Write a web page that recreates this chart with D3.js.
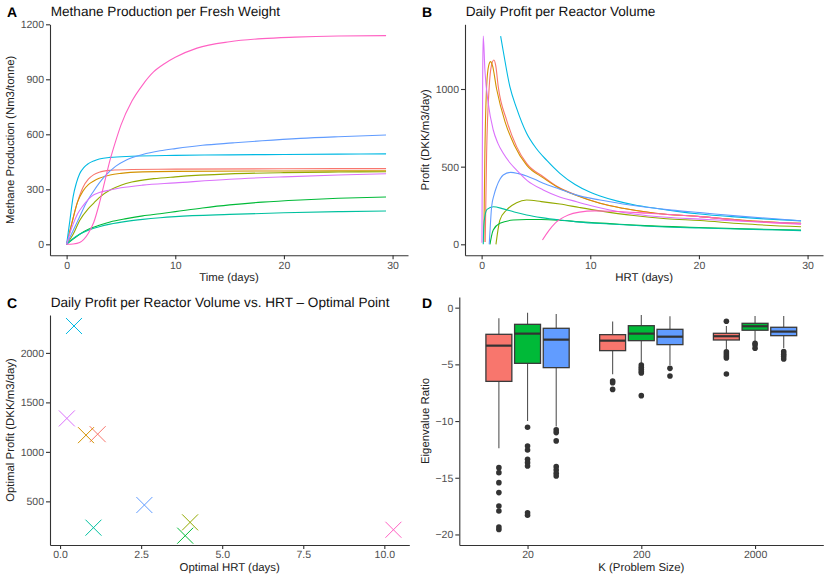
<!DOCTYPE html>
<html>
<head>
<meta charset="utf-8">
<script src="https://cdn.jsdelivr.net/npm/d3@7"></script>
<style>
  body { margin: 0; background: #fff; }
  svg { font-family: "Liberation Sans", Arial, sans-serif; text-rendering: geometricPrecision; }
  .axis path, .axis line { stroke: #333; stroke-width: 1.1; }
  .axis text { fill: #4d4d4d; font-size: 10.5px; }
</style>
</head>
<body>
<div id="chart-area"></div>
<script>
// --- Data ---
// series order follows the ggplot hue palette
var seriesColors = ["#F8766D", "#D39200", "#93AA00", "#00BA38", "#00C19F", "#00B9E3", "#619CFF", "#DB72FB", "#FF61C3"];

// Panel A: methane production (time in days, Nm3/tonne)
var methaneRed    = [[0,0],[0.5,120],[1,230],[1.5,310],[2,355],[2.5,380],[3,393],[4,403],[6,408],[10,410],[20,412],[29.4,413]];
var methaneOrange = [[0,0],[0.5,120],[1,230],[1.5,290],[2,325],[2.5,345],[3,360],[4,378],[5,387],[7,395],[10,398],[20,400],[29.4,401]];
var methaneOlive  = [[0,0],[0.6,55],[1.2,130],[2,195],[2.5,225],[3,255],[4,296],[5,322],[6,340],[8,358],[10,368],[15,384],[20,391],[25,394],[29.4,396]];
var methaneGreen  = [[0,0],[0.6,28],[1.2,55],[2,82],[3,104],[4,122],[5.5,140],[7,155],[8.6,167],[10,178],[12.5,198],[15,215],[18,230],[21.5,242],[25,251],[29.4,258]];
var methaneTeal   = [[0,0],[0.6,32],[1.2,55],[2,77],[3,96],[4,110],[5.5,125],[7,136],[8.6,145],[10,151],[15,163],[20,172],[25,178],[29.4,182]];
var methaneCyan   = [[0,0],[0.3,130],[0.6,260],[0.9,335],[1.2,385],[1.6,420],[2,440],[2.5,455],[3,465],[4,474],[6,480],[10,485],[15,488],[20,490],[25,492],[29.4,493]];
var methaneBlue   = [[0,0],[0.6,75],[1.2,150],[1.8,225],[2.45,287],[3.5,370],[4.5,425],[5.5,460],[7,490],[8.6,510],[10,522],[12.5,540],[15.3,553],[18,565],[21.5,578],[25,587],[29.4,596]];
var methanePurple = [[0,0],[0.3,60],[0.6,110],[1,165],[1.5,210],[2,245],[2.5,270],[3,282],[4,296],[5,308],[7,323],[10,335],[15,355],[20,368],[25,378],[29.4,385]];
var methanePink   = [[0,0],[0.6,2],[1.2,10],[2,60],[2.5,120],[3,220],[3.5,340],[4,460],[4.5,560],[5,650],[6,780],[7,870],[8,940],[9,985],[10,1020],[12,1070],[15,1105],[18,1122],[21,1130],[25,1136],[29.4,1138]];

// Panel B: daily profit per reactor volume (HRT in days, DKK/m3/day)
var profitRed    = [[0.33,15],[0.46,586],[0.7,1015],[0.9,1150],[1.13,1187],[1.3,1150],[1.53,1015],[2.3,800],[3.22,629],[4.14,521],[5.67,435],[7,370],[8.74,316],[10.9,264],[13,232],[16,200],[20.1,178],[24,155],[29.4,135]];
var profitOrange = [[0.2,15],[0.3,586],[0.46,1015],[0.65,1150],[0.83,1176],[1.0,1150],[1.38,1000],[2.15,790],[3,640],[4.14,510],[5.67,428],[7,368],[8.74,314],[10.9,264],[13,232],[16,200],[20.1,178],[24,155],[29.4,135]];
var profitOlive  = [[1.32,0],[1.5,90],[1.68,156],[2.3,221],[3.22,268],[4.14,285],[5.5,275],[7.2,259],[9,237],[10.9,215],[14,185],[17,165],[20.1,153],[24,132],[29.4,113]];
var profitGreen  = [[0.77,0],[0.9,50],[1.07,92],[1.68,135],[2.9,156],[4.14,160],[5.5,160],[7.2,155],[9,145],[11.8,133],[15,120],[20,108],[25,98],[29.4,91]];
var profitTeal   = [[0.15,0],[0.2,120],[0.3,180],[0.5,225],[1.07,242],[2,228],[3,208],[4.14,189],[5.5,172],[7.2,156],[9,143],[11.8,131],[15,118],[20,105],[25,96],[29.4,88]];
var profitCyan   = [[1.75,1341],[2,1240],[2.6,1015],[3.2,880],[4.14,715],[5,620],[6,540],[7.2,457],[8.6,385],[10,335],[10.9,311],[12.5,278],[14,255],[16,232],[18,212],[20.1,195],[23,178],[26,164],[29.4,151]];
var profitBlue   = [[0.7,0],[0.8,120],[0.92,242],[1.15,320],[1.38,371],[1.7,420],[1.99,446],[2.67,463],[3.4,455],[4.14,440],[5,415],[5.67,393],[7.2,355],[8.6,320],[10.9,285],[13,260],[15,240],[17.5,220],[20.1,204],[24,180],[29.4,152]];
var profitPurple = [[0.03,10],[0.06,500],[0.1,1100],[0.15,1341],[0.3,1122],[0.61,908],[1.07,736],[1.5,650],[1.99,586],[2.6,525],[3.22,478],[4.2,410],[5.67,350],[7,310],[8.74,274],[10,250],[11.8,221],[14,195],[17,174],[20.1,162],[24,148],[29.4,133]];
var profitPink   = [[5.6,28],[6.2,90],[6.75,135],[7.98,189],[9,207],[10.4,215],[12,213],[15.3,200],[20.1,178],[24,152],[29.4,129]];

// Panel C: optimal HRT (days) and optimal profit (DKK/m3/day)
var optimalHRT    = [1.16, 0.80, 4.01, 3.86, 1.03, 0.43, 2.60, 0.21, 10.28];
var optimalProfit = [1179, 1169, 288, 153, 234, 2272, 463, 1338, 213];

// Panel D: eigenvalue ratio boxplots, K groups x three methods
var kGroups = ["20", "200", "2000"];
var boxColors = ["#F8766D", "#00BA38", "#619CFF"];
// [lower whisker, Q1, median, Q3, upper whisker]
var boxStats20   = [[-12.4,-6.5,-3.35,-2.35,-0.94], [-10.0,-4.91,-2.29,-1.47,-0.44], [-10.49,-5.29,-2.82,-1.82,-0.56]];
var boxStats200  = [[-5.88,-3.79,-2.91,-2.38,-1.23], [-4.91,-2.91,-2.29,-1.59,-0.65], [-5.06,-3.26,-2.56,-1.91,-0.76]];
var boxStats2000 = [[-3.67,-2.85,-2.52,-2.26,-1.61], [-2.96,-1.99,-1.64,-1.38,-0.73], [-3.55,-2.47,-2.11,-1.73,-0.73]];
var outliers20   = [[-14.11,-14.55,-15.43,-16.31,-17.49,-17.93,-19.35,-19.56], [-10.55,-12.2,-12.55,-13.37,-13.67,-13.96,-18.08,-18.3], [-10.78,-11.02,-11.75,-14.02,-14.31,-14.6,-14.84]];
var outliers200  = [[-6.47,-6.62,-7.21], [-5.06,-5.26,-5.44,-5.62,-5.76,-7.76], [-5.35,-6.03]];
var outliers2000 = [[-1.2,-3.9,-4.08,-4.26,-4.43,-5.85], [-3.14,-3.3,-3.58], [-3.88,-4.1,-4.3,-4.53]];

var methaneSeries = [methaneRed, methaneOrange, methaneOlive, methaneGreen, methaneTeal, methaneCyan, methaneBlue, methanePurple, methanePink];
var profitSeries  = [profitRed, profitOrange, profitOlive, profitGreen, profitTeal, profitCyan, profitBlue, profitPurple, profitPink];
var boxStats = [boxStats20, boxStats200, boxStats2000];
var boxOutliers = [outliers20, outliers200, outliers2000];

// --- Canvas ---
var canvasWidth = 830, canvasHeight = 581;
var canvas = d3.select("#chart-area").append("svg")
  .attr("width", canvasWidth)
  .attr("height", canvasHeight);
canvas.append("rect").attr("width", canvasWidth).attr("height", canvasHeight).attr("fill", "#fff");

var titleSize = 13.6, axisTitleSize = 11.4;
var intFormat = d3.format("d");

function panelText(x, y, label, title) {
  canvas.append("text").attr("x", x).attr("y", y)
    .attr("font-size", "14px").attr("font-weight", "bold").text(label);
  if (title) {
    canvas.append("text").attr("x", x + 43.7).attr("y", y - 1)
      .attr("font-size", titleSize + "px").attr("fill", "#111").text(title);
  }
}

function axisTitles(box, xTitle, yTitle, yTitleX) {
  canvas.append("text")
    .attr("x", (box.left + box.right) / 2).attr("y", box.bottom + 26)
    .attr("text-anchor", "middle").attr("font-size", axisTitleSize + "px")
    .attr("fill", "#222")
    .text(xTitle);
  canvas.append("text")
    .attr("transform", "translate(" + yTitleX + "," + ((box.top + box.bottom) / 2) + ") rotate(-90)")
    .attr("text-anchor", "middle").attr("font-size", axisTitleSize + "px")
    .attr("fill", "#222")
    .text(yTitle);
}

function drawAxes(box, xAxis, yAxis) {
  canvas.append("g").attr("class", "axis")
    .attr("transform", "translate(0," + box.bottom + ")")
    .call(xAxis);
  canvas.append("g").attr("class", "axis")
    .attr("transform", "translate(" + box.left + ",0)")
    .call(yAxis);
}

// --- Panel A ---
var boxA = {left: 50, right: 408, top: 24.3, bottom: 255.3};
var xA = d3.scaleLinear().domain([-1.53, 31.42]).range([boxA.left, boxA.right]);
var yA = d3.scaleLinear().domain([-60, 1200]).range([boxA.bottom, boxA.top]);
var line = d3.line().curve(d3.curveMonotoneX);

methaneSeries.forEach(function(s, i) {
  canvas.append("path")
    .attr("d", line.x(function(d) { return xA(d[0]); }).y(function(d) { return yA(d[1]); })(s))
    .attr("fill", "none").attr("stroke", seriesColors[i]).attr("stroke-width", 1.1);
});
drawAxes(boxA,
  d3.axisBottom(xA).tickValues([0, 10, 20, 30]).tickSize(4).tickSizeOuter(0).tickPadding(2),
  d3.axisLeft(yA).tickValues([0, 300, 600, 900, 1200]).tickFormat(intFormat).tickSize(4).tickSizeOuter(0).tickPadding(2));
axisTitles(boxA, "Time (days)", "Methane Production (Nm3/tonne)", 13.5);
panelText(7, 16.5, "A", "Methane Production per Fresh Weight");

// --- Panel B ---
var boxB = {left: 465, right: 823.3, top: 24.3, bottom: 255.3};
var xB = d3.scaleLinear().domain([-1.53, 31.42]).range([boxB.left, boxB.right - 0.3]);
var yB = d3.scaleLinear().domain([-70.8, 1416.6]).range([boxB.bottom, boxB.top]);

profitSeries.forEach(function(s, i) {
  canvas.append("path")
    .attr("d", line.x(function(d) { return xB(d[0]); }).y(function(d) { return yB(d[1]); })(s))
    .attr("fill", "none").attr("stroke", seriesColors[i]).attr("stroke-width", 1.1);
});
drawAxes(boxB,
  d3.axisBottom(xB).tickValues([0, 10, 20, 30]).tickSize(4).tickSizeOuter(0).tickPadding(2),
  d3.axisLeft(yB).tickValues([0, 500, 1000]).tickFormat(intFormat).tickSize(4).tickSizeOuter(0).tickPadding(2));
axisTitles(boxB, "HRT (days)", "Profit (DKK/m3/day)", 428.5);
panelText(422, 16.5, "B", "Daily Profit per Reactor Volume");

// --- Panel C ---
var boxC = {left: 50, right: 409.3, top: 315, bottom: 545};
var xC = d3.scaleLinear().domain([-0.31, 10.77]).range([boxC.left, boxC.right]);
var yC = d3.scaleLinear().domain([59, 2383]).range([boxC.bottom, boxC.top]);
var crossSize = 8;

optimalHRT.forEach(function(h, i) {
  var cx = xC(h), cy = yC(optimalProfit[i]);
  canvas.append("path")
    .attr("d", "M" + (cx - crossSize) + "," + (cy - crossSize) + "L" + (cx + crossSize) + "," + (cy + crossSize) +
               "M" + (cx - crossSize) + "," + (cy + crossSize) + "L" + (cx + crossSize) + "," + (cy - crossSize))
    .attr("stroke", seriesColors[i]).attr("stroke-width", 1).attr("fill", "none");
});
drawAxes(boxC,
  d3.axisBottom(xC).tickValues([0, 2.5, 5, 7.5, 10]).tickFormat(d3.format(".1f")).tickSize(4).tickSizeOuter(0).tickPadding(2),
  d3.axisLeft(yC).tickValues([500, 1000, 1500, 2000]).tickFormat(intFormat).tickSize(4).tickSizeOuter(0).tickPadding(2));
axisTitles(boxC, "Optimal HRT (days)", "Optimal Profit (DKK/m3/day)", 13.5);
panelText(7, 307.5, "C", "Daily Profit per Reactor Volume vs. HRT \u2013 Optimal Point");

// --- Panel D ---
var boxD = {left: 459.3, right: 823.3, top: 297, bottom: 545};
var xD = d3.scalePoint().domain(kGroups).range([boxD.left, boxD.right]).padding(0.6);
var yD = d3.scaleLinear().domain([-20.93, 0.94]).range([boxD.bottom, boxD.top]);
var dodge = xD.step() * 0.252;
var boxWidth = xD.step() * 0.228;

kGroups.forEach(function(k, g) {
  boxStats[g].forEach(function(st, j) {
    var cx = xD(k) + (j - 1) * dodge;
    var grp = canvas.append("g");
    // whiskers
    grp.append("line").attr("x1", cx).attr("x2", cx).attr("y1", yD(st[0])).attr("y2", yD(st[1]))
      .attr("stroke", "#555").attr("stroke-width", 1.1);
    grp.append("line").attr("x1", cx).attr("x2", cx).attr("y1", yD(st[3])).attr("y2", yD(st[4]))
      .attr("stroke", "#555").attr("stroke-width", 1.1);
    // box
    grp.append("rect")
      .attr("x", cx - boxWidth / 2).attr("width", boxWidth)
      .attr("y", yD(st[3])).attr("height", yD(st[1]) - yD(st[3]))
      .attr("fill", boxColors[j]).attr("stroke", "#3a3a3a").attr("stroke-width", 1.3);
    // median
    grp.append("line").attr("x1", cx - boxWidth / 2).attr("x2", cx + boxWidth / 2)
      .attr("y1", yD(st[2])).attr("y2", yD(st[2]))
      .attr("stroke", "#333").attr("stroke-width", 2.2);
    // outliers
    boxOutliers[g][j].forEach(function(v) {
      grp.append("circle").attr("cx", cx).attr("cy", yD(v)).attr("r", 2.8).attr("fill", "#333");
    });
  });
});
drawAxes(boxD,
  d3.axisBottom(xD).tickSize(4).tickSizeOuter(0).tickPadding(2),
  d3.axisLeft(yD).tickValues([0, -5, -10, -15, -20]).tickFormat(function(d) { return d < 0 ? "\u2212" + (-d) : d; }).tickSize(4).tickSizeOuter(0).tickPadding(2));
axisTitles(boxD, "K (Problem Size)", "Eigenvalue Ratio", 428.5);
panelText(422, 307.5, "D", null);
</script>
</body>
</html>
